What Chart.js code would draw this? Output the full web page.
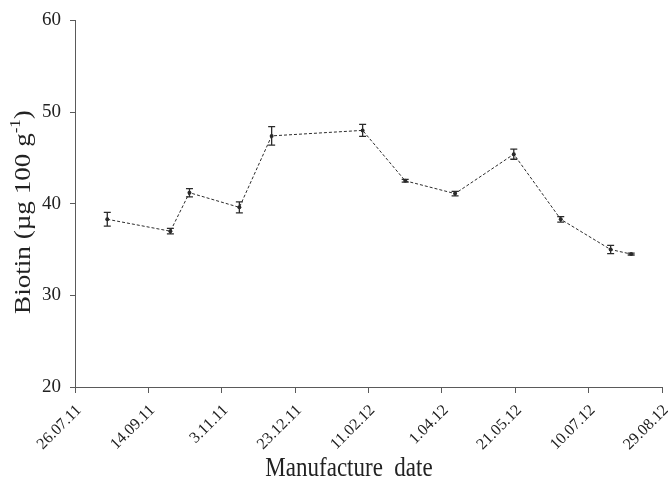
<!DOCTYPE html>
<html>
<head>
<meta charset="utf-8">
<script src="https://cdn.jsdelivr.net/npm/chart.js@4.4.1/dist/chart.umd.min.js"></script>
<style>
  html, body { margin: 0; padding: 0; background: #fff; }
  #wrap { width: 668px; height: 496px; position: relative; }
</style>
</head>
<body>
<div id="wrap"><canvas id="chart" width="668" height="496"></canvas></div>
<script>
// Sampling dates of each production batch
const sampleDates = ['2011-08-17', '2011-09-29', '2011-10-12', '2011-11-15', '2011-12-07', '2012-02-07',
                     '2012-03-07', '2012-04-10', '2012-05-20', '2012-06-21', '2012-07-25', '2012-08-08'];
// Biotin content, µg per 100 g, and its standard deviation
const biotinMean = [38.3, 37.0, 41.2, 39.6, 47.4, 48.0, 42.5, 41.1, 45.4, 38.3, 35.0, 34.5];
const biotinSD   = [0.75, 0.3, 0.45, 0.6, 1.0, 0.65, 0.15, 0.25, 0.55, 0.3, 0.45, 0.1];
// Date axis labels (every 50 days from the first one)
const dateTicks = ['26.07.11', '14.09.11', '3.11.11', '23.12.11', '11.02.12', '1.04.12', '21.05.12', '10.07.12', '29.08.12'];
const axisStart = '2011-07-26';
const tickStepDays = 50;
const xTitleText = 'Manufacture  date';

const DAY = 86400000;
const dayOf = s => (Date.parse(s + 'T00:00:00Z') - Date.parse(axisStart + 'T00:00:00Z')) / DAY;

const points = sampleDates.map((d, i) => ({ x: dayOf(d), y: biotinMean[i], sd: biotinSD[i] }));

const serif = "'Liberation Serif', 'Times New Roman', serif";
const ink = '#2b2b2b';
const textInk = '#222';
const axisGrey = '#5a5a5a';

// Vertical error bars with small caps
const errorBars = {
  id: 'errorBars',
  afterDatasetsDraw(chart) {
    const { ctx, scales: { x, y } } = chart;
    ctx.save();
    ctx.strokeStyle = ink;
    ctx.lineWidth = 1.3;
    points.forEach(p => {
      const px = x.getPixelForValue(p.x);
      const top = y.getPixelForValue(p.y + p.sd);
      const bot = y.getPixelForValue(p.y - p.sd);
      const cap = 3.5;
      ctx.beginPath();
      ctx.moveTo(px, top); ctx.lineTo(px, bot);
      ctx.moveTo(px - cap, top); ctx.lineTo(px + cap, top);
      ctx.moveTo(px - cap, bot); ctx.lineTo(px + cap, bot);
      ctx.stroke();
    });
    ctx.restore();
  }
};

// Axis titles: a rotated y title with a superscript exponent, and the x title
const axisTitles = {
  id: 'axisTitles',
  afterDraw(chart) {
    const { ctx } = chart;
    ctx.save();
    ctx.fillStyle = textInk;
    ctx.textBaseline = 'alphabetic';
    ctx.textAlign = 'left';

    // y title
    const size = 24, supSize = 15, stretch = 1.13;
    const main = 'Biotin (µg 100 g', sup = '-1', tail = ')';
    ctx.font = size + 'px ' + serif;
    const wMain = ctx.measureText(main).width;
    const wTail = ctx.measureText(tail).width;
    ctx.font = supSize + 'px ' + serif;
    const wSup = ctx.measureText(sup).width;
    const total = wMain + wSup + wTail;
    ctx.save();
    ctx.translate(30, 212);
    ctx.rotate(-Math.PI / 2);
    ctx.scale(stretch, 1);
    let xx = -total / 2;
    ctx.font = size + 'px ' + serif;
    ctx.fillText(main, xx, 0); xx += wMain;
    ctx.font = supSize + 'px ' + serif;
    ctx.fillText(sup, xx, -10); xx += wSup;
    ctx.font = size + 'px ' + serif;
    ctx.fillText(tail, xx, 0);
    ctx.restore();

    // x title
    ctx.save();
    ctx.font = '23px ' + serif;
    ctx.translate(349, 476);
    ctx.scale(1, 1.15);
    ctx.textAlign = 'center';
    ctx.fillText(xTitleText, 0, 0);
    ctx.restore();

    ctx.restore();
  }
};

new Chart(document.getElementById('chart'), {
  type: 'line',
  data: {
    datasets: [{
      data: points,
      borderColor: ink,
      borderWidth: 1,
      borderDash: [3, 2],
      pointRadius: 2,
      pointBackgroundColor: ink,
      pointBorderColor: ink,
      pointBorderWidth: 0,
      tension: 0,
      fill: false
    }]
  },
  options: {
    responsive: false,
    animation: false,
    devicePixelRatio: 1,
    layout: { padding: { left: 0, top: 19, right: 6, bottom: 0 } },
    plugins: { legend: { display: false }, tooltip: { enabled: false } },
    scales: {
      x: {
        type: 'linear',
        min: 0,
        max: tickStepDays * (dateTicks.length - 1),
        afterBuildTicks(scale) {
          scale.ticks = dateTicks.map((_, i) => ({ value: i * tickStepDays }));
        },
        afterFit(scale) {
          scale.height = 109;
          scale.paddingLeft = 0;
          scale.paddingRight = 0;
        },
        grid: { display: true, drawOnChartArea: false, drawTicks: true, tickLength: 6, color: axisGrey, lineWidth: 1 },
        border: { display: true, color: axisGrey, width: 1 },
        ticks: {
          autoSkip: false,
          maxRotation: 45,
          minRotation: 45,
          padding: 8,
          labelOffset: 4,
          color: textInk,
          font: { family: serif, size: 16 },
          callback: (v, i) => dateTicks[i]
        }
      },
      y: {
        min: 20,
        max: 60,
        afterFit(scale) { scale.width = 75; },
        grid: { display: true, drawOnChartArea: false, drawTicks: true, tickLength: 5, color: axisGrey, lineWidth: 1 },
        border: { display: true, color: axisGrey, width: 1 },
        ticks: {
          stepSize: 10,
          padding: 9,
          color: textInk,
          font: { family: serif, size: 19 }
        }
      }
    }
  },
  plugins: [errorBars, axisTitles]
});
</script>
</body>
</html>
